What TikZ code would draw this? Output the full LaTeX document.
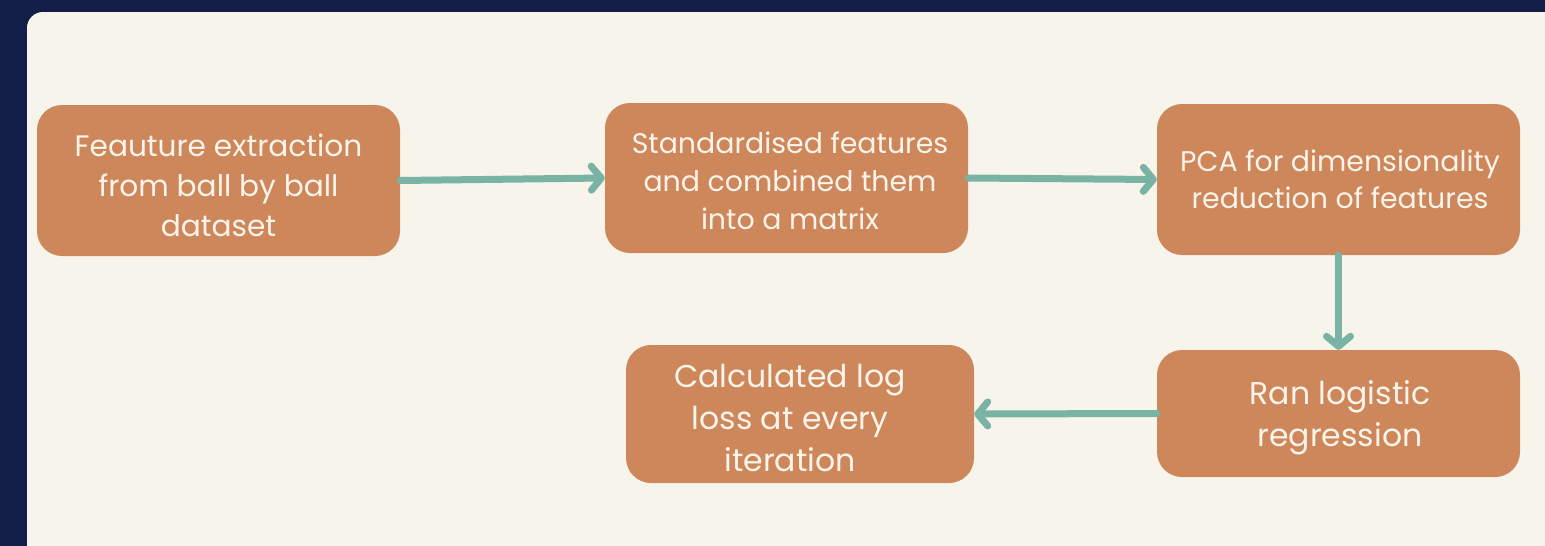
\documentclass[tikz,border=0pt]{standalone}
\usepackage{fontspec}
\setmainfont{Poppins}
\usetikzlibrary{arrows.meta}
\definecolor{navy}{HTML}{121D48}
\definecolor{panel}{HTML}{F7F4EC}
\definecolor{orangebox}{HTML}{CD875B}
\definecolor{teal}{HTML}{79B3A4}
\definecolor{boxtext}{HTML}{FBF4EA}
\tikzset{
  stepbox/.style={fill=orangebox, draw=none, rounded corners=25pt, inner sep=0pt},
  txt/.style={text=boxtext, align=center, inner sep=0pt},
  conn/.style={draw=teal, line width=7pt, line cap=round, -{Straight Barb[length=10pt,width=24pt,round]}}
}
\begin{document}
\begin{tikzpicture}[x=1pt,y=-1pt]
\useasboundingbox (0,0) rectangle (1545,546);
\fill[navy] (0,0) rectangle (1545,546);
\fill[panel, rounded corners=16pt] (27,12) rectangle (1580,560);
\node[stepbox, minimum width=363pt, minimum height=151pt] (b1) at (218.5,180.5) {};
\node[txt, font=\fontsize{29.6}{40}\selectfont] (t1) at (218.5,185) {Feauture extraction\\from ball by ball\\dataset};
\node[stepbox, minimum width=363pt, minimum height=150pt] (b2) at (786.5,178) {};
\node[txt, font=\fontsize{28.4}{38}\selectfont] (t2) at (790,181) {Standardised features\\and combined them\\into a matrix};
\node[stepbox, minimum width=363pt, minimum height=151pt] (b3) at (1338.5,179.5) {};
\node[txt, font=\fontsize{28.4}{37}\selectfont] (t3) at (1340,179) {PCA for dimensionality\\reduction of features};
\node[stepbox, minimum width=363pt, minimum height=127pt] (b4) at (1338.5,413.5) {};
\node[txt, font=\fontsize{31.5}{42}\selectfont] (t4) at (1340,418) {Ran logistic\\regression};
\node[stepbox, minimum width=348pt, minimum height=138pt] (b5) at (800,414) {};
\node[txt, font=\fontsize{31.5}{42}\selectfont] (t5) at (790,418) {Calculated log\\loss at every\\iteration};
\draw[conn] (b1.east) -- (b2.west);
\draw[conn] (b2.east) -- (b3.west);
\draw[conn] (b3.south) -- (b4.north);
\draw[conn] (b4.west) -- (b5.east);
\end{tikzpicture}
\end{document}
